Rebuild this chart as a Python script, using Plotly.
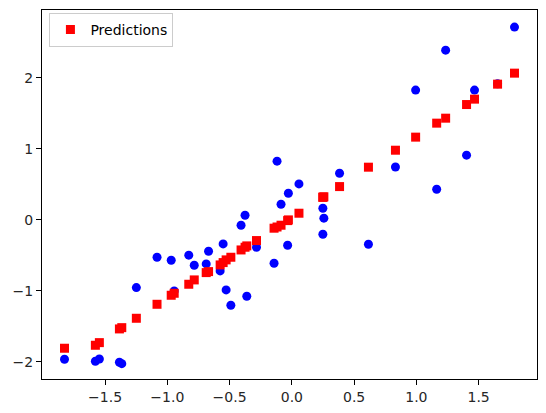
import plotly.graph_objects as go

# valores
x_vals = [-1.826, -1.578, -1.546, -1.385, -1.366, -1.249, -1.083, -0.969, -0.945, -0.828,
          -0.784, -0.688, -0.669, -0.576, -0.552, -0.528, -0.490, -0.408, -0.376, -0.362,
          -0.284, -0.143, -0.119, -0.087, -0.028, -0.034, 0.057, 0.249, 0.257, 0.249,
          0.383, 0.615, 0.832, 0.994, 1.163, 1.235, 1.403, 1.467, 1.652, 1.788]

y_real = [-1.962, -1.990, -1.958, -2.004, -2.024, -0.953, -0.526, -0.568, -1.000, -0.497,
          -0.638, -0.620, -0.441, -0.718, -0.338, -0.986, -1.202, -0.075, 0.066, -1.075,
          -0.385, -0.610, 0.827, 0.221, 0.375, -0.357, 0.507, 0.164, 0.024, -0.202,
          0.657, -0.343, 0.744, 1.827, 0.432, 2.390, 0.911, 1.827, 1.915, 2.714]

y_pred = [-1.807, -1.765, -1.728, -1.535, -1.517, -1.385, -1.188, -1.061, -1.033, -0.906,
          -0.845, -0.742, -0.728, -0.634, -0.601, -0.563, -0.526, -0.423, -0.385, -0.366,
          -0.291, -0.117, -0.100, -0.075, 0.000, -0.010, 0.094, 0.319, 0.325, 0.319,
          0.469, 0.742, 0.981, 1.165, 1.362, 1.432, 1.624, 1.700, 1.911, 2.066]

x_ticks = [-1.5, -1.0, -0.5, 0.0, 0.5, 1.0, 1.5]
y_ticks = [-2, -1, 0, 1, 2]


def margem(valores, frac=0.05):
    lo, hi = min(valores), max(valores)
    d = (hi - lo) * frac
    return [lo - d, hi + d]


fig = go.Figure()

fig.add_scatter(
    x=x_vals, y=y_real,
    mode='markers',
    marker=dict(symbol='circle', size=9, color='blue', line=dict(width=0)),
    showlegend=False,
)

fig.add_scatter(
    x=x_vals, y=y_pred,
    mode='markers',
    marker=dict(symbol='square', size=9, color='red', line=dict(width=0)),
    name='Predictions',
)

eixo = dict(
    showgrid=False, zeroline=False,
    showline=True, linecolor='black', linewidth=1.1, mirror=True,
    ticks='outside', ticklen=5, tickwidth=1.1, tickcolor='black',
    tickfont=dict(family='DejaVu Sans', size=14, color='#262626'),
)

fig.update_xaxes(eixo, range=margem(x_vals), tickvals=x_ticks,
                 ticktext=[f'{v:.1f}'.replace('-', '\u2212') for v in x_ticks])
fig.update_yaxes(eixo, range=[-2.24, 2.955], tickvals=y_ticks,
                 ticktext=[f'{v}'.replace('-', '\u2212') for v in y_ticks])

# a página tem 8px de margem no body, por isso a figura é um pouco menor
fig.update_layout(
    width=538, height=405,
    margin=dict(l=34, r=9, t=2, b=34),
    plot_bgcolor='white', paper_bgcolor='white',
    showlegend=True,
    legend=dict(
        x=0.015, y=0.992, xanchor='left', yanchor='top',
        bordercolor='#cccccc', borderwidth=1, bgcolor='rgba(255,255,255,0.8)',
        font=dict(family='DejaVu Sans', size=14, color='black'),
        itemwidth=30,
    ),
)

fig.write_html("out.html")
